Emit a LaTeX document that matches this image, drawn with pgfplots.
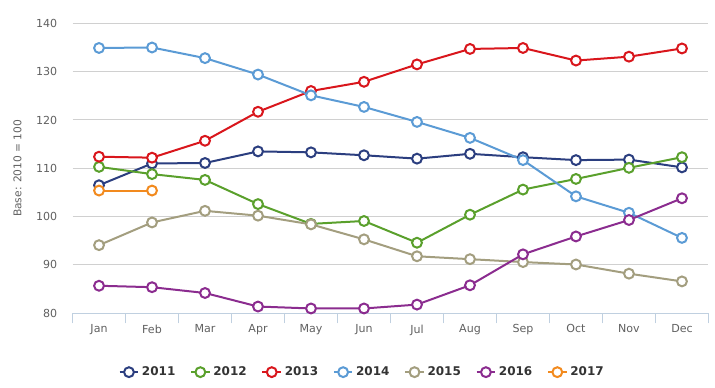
\documentclass[border=0pt]{standalone}
\usepackage{pgfplots}
\pgfplotsset{compat=1.18}
\usepackage{fontspec}
\setmainfont{DejaVu Sans}
\definecolor{c11}{HTML}{2B3E7F}
\definecolor{c12}{HTML}{5AA02C}
\definecolor{c13}{HTML}{D9161C}
\definecolor{c14}{HTML}{5B9BD5}
\definecolor{c15}{HTML}{A39E7F}
\definecolor{c16}{HTML}{8B2C8F}
\definecolor{c17}{HTML}{F28A1E}
\definecolor{ticktxt}{HTML}{606060}
\definecolor{gridc}{HTML}{D0D0D0}
\definecolor{axc}{HTML}{C0D0E0}
\begin{document}
\begin{tikzpicture}
\path (-54.4pt,-55.5pt) rectangle (481.9pt,235pt);
\begin{axis}[
  scale only axis,
  width=477pt, height=217.5pt,
  xmin=-0.5, xmax=11.5, ymin=80, ymax=140,
  xtick={0,...,11},
  xticklabels={Jan,Feb,Mar,Apr,May,Jun,Jul,Aug,Sep,Oct,Nov,Dec},
  minor xtick={-0.5,0.5,...,11.5},
  ytick={80,90,...,140},
  /pgf/number format/assume math mode=true,
  axis line style={draw=none},
  axis x line*=bottom,
  x axis line style={draw=axc, line width=0.75pt},
  major tick length=0pt,
  minor tick length=7.5pt,
  minor x tick style={draw=axc, line width=0.75pt},
  tick align=outside,
  ymajorgrids, major grid style={gridc, line width=0.75pt},
  yminorgrids=false, xminorgrids=false,
  ticklabel style={font=\fontsize{8.3}{9}\selectfont, text=ticktxt},
  xticklabel style={yshift=-5pt},
  yticklabel style={xshift=-8pt},
  ylabel={Base: 2010 = 100},
  ylabel style={font=\fontsize{8}{9}\selectfont, text=ticktxt, yshift=4pt},
  every axis plot/.append style={line width=1.5pt, mark=*, mark size=3.7pt, mark options={fill=white, line width=1.5pt}},
  legend columns=7,
  legend style={at={(0.456,-0.203)}, anchor=center, draw=none, fill=none,
    font=\fontsize{9}{10}\selectfont\bfseries, text=black!80,
    /tikz/every even column/.append style={column sep=9pt}},
  legend image code/.code={\draw[#1, mark repeat=2, mark phase=2] plot coordinates {(0pt,0pt) (7pt,0pt) (14pt,0pt)};},
  clip=false,
]
\addplot[c11] coordinates {(0,106.5) (1,111.0) (2,111.1) (3,113.5) (4,113.3) (5,112.7) (6,112.0) (7,113.0) (8,112.3) (9,111.7) (10,111.8) (11,110.2)};
\addlegendentry{2011}
\addplot[c12] coordinates {(0,110.3) (1,108.8) (2,107.6) (3,102.6) (4,98.5) (5,99.1) (6,94.6) (7,100.4) (8,105.6) (9,107.8) (10,110.1) (11,112.3)};
\addlegendentry{2012}
\addplot[c13] coordinates {(0,112.4) (1,112.2) (2,115.7) (3,121.7) (4,126.0) (5,127.9) (6,131.5) (7,134.7) (8,134.9) (9,132.3) (10,133.1) (11,134.8)};
\addlegendentry{2013}
\addplot[c14] coordinates {(0,134.9) (1,135.0) (2,132.8) (3,129.4) (4,125.1) (5,122.7) (6,119.6) (7,116.3) (8,111.7) (9,104.2) (10,100.8) (11,95.6)};
\addlegendentry{2014}
\addplot[c15] coordinates {(0,94.1) (1,98.8) (2,101.2) (3,100.2) (4,98.4) (5,95.3) (6,91.8) (7,91.2) (8,90.6) (9,90.1) (10,88.2) (11,86.6)};
\addlegendentry{2015}
\addplot[c16] coordinates {(0,85.7) (1,85.4) (2,84.2) (3,81.4) (4,81.0) (5,81.0) (6,81.8) (7,85.8) (8,92.2) (9,95.9) (10,99.3) (11,103.8)};
\addlegendentry{2016}
\addplot[c17] coordinates {(0,105.4) (1,105.4)};
\addlegendentry{2017}
\end{axis}
\end{tikzpicture}
\end{document}
